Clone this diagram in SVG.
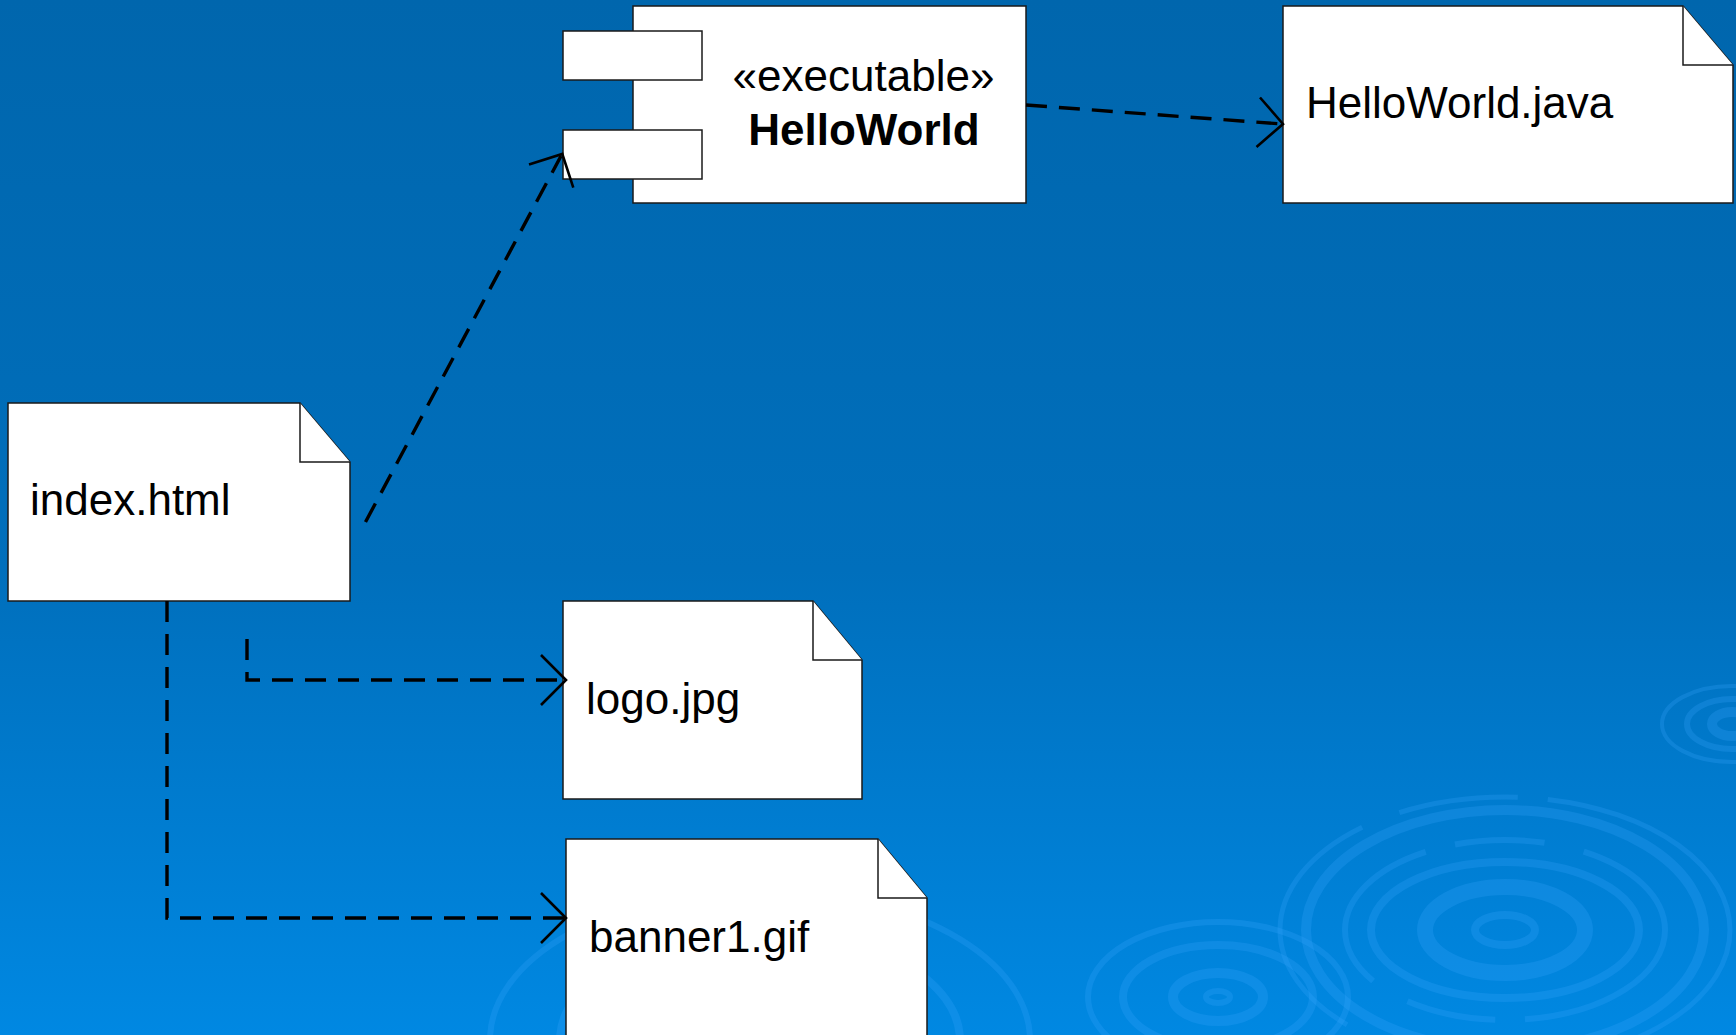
<svg xmlns="http://www.w3.org/2000/svg" width="1736" height="1035" viewBox="0 0 1736 1035">
<defs>
<linearGradient id="bg" x1="0" y1="0" x2="0" y2="1">
<stop offset="0" stop-color="#0066ad"/>
<stop offset="0.55" stop-color="#006fbc"/>
<stop offset="1" stop-color="#0088e2"/>
</linearGradient>
<style>
.box{fill:#fff;stroke:#1a1a1a;stroke-width:1.5}
.t{font-family:"Liberation Sans",Arial,sans-serif;font-size:44px;fill:#000}
.b{font-weight:bold}
.dash{fill:none;stroke:#000;stroke-width:3.4;stroke-dasharray:21 12}
.head{fill:none;stroke:#000;stroke-width:2.6;stroke-linejoin:miter}
.rip{fill:none;stroke:#3aa6ff;stroke-opacity:0.24}
</style>
</defs>
<rect width="1736" height="1035" fill="url(#bg)"/>
<g id="ripples">
<ellipse class="rip" cx="1505" cy="930" rx="80" ry="43" stroke-width="16"/>
<ellipse class="rip" cx="1505" cy="930" rx="30" ry="15" stroke-width="8"/>
<ellipse class="rip" cx="1505" cy="930" rx="134" ry="68" stroke-width="8"/>
<ellipse class="rip" cx="1505" cy="930" rx="160" ry="90" stroke-width="6" stroke-dasharray="180 30 90 40"/>
<ellipse class="rip" cx="1505" cy="930" rx="199" ry="120" stroke-width="10"/>
<ellipse class="rip" cx="1505" cy="930" rx="225" ry="133" stroke-width="5" stroke-dasharray="260 40 120 30"/>
<ellipse class="rip" cx="1732" cy="724" rx="20" ry="12" stroke-width="10"/>
<ellipse class="rip" cx="1732" cy="724" rx="45" ry="25" stroke-width="6"/>
<ellipse class="rip" cx="1732" cy="724" rx="70" ry="38" stroke-width="4"/>
<ellipse class="rip" cx="1218" cy="997" rx="12" ry="6" stroke-width="6"/>
<ellipse class="rip" cx="1218" cy="997" rx="45" ry="24" stroke-width="10"/>
<ellipse class="rip" cx="1218" cy="997" rx="95" ry="52" stroke-width="8"/>
<ellipse class="rip" cx="1218" cy="997" rx="130" ry="75" stroke-width="6"/>
<ellipse class="rip" cx="760" cy="1040" rx="200" ry="110" stroke-width="8"/>
<ellipse class="rip" cx="760" cy="1040" rx="270" ry="150" stroke-width="6"/>
</g>
<g id="component-HelloWorld">
<rect class="box" x="633" y="6" width="393" height="197"/>
<rect class="box" x="563" y="31" width="139" height="49"/>
<rect class="box" x="563" y="130" width="139" height="49"/>
<text class="t" x="863.5" y="91" text-anchor="middle">«executable»</text>
<text class="t b" x="864" y="145" text-anchor="middle">HelloWorld</text>
</g>
<g id="file-HelloWorld-java">
<path class="box" d="M1283,6 H1683 L1733,65 V203 H1283 Z"/>
<path class="box" d="M1683,6 V65 H1733"/>
<text class="t" x="1306" y="117.5">HelloWorld.java</text>
</g>
<g id="file-index-html">
<path class="box" d="M8,403 H300 L350,462 V601 H8 Z"/>
<path class="box" d="M300,403 V462 H350"/>
<text class="t" x="30" y="515">index.html</text>
</g>
<g id="file-logo-jpg">
<path class="box" d="M563,601 H813 L862,660 V799 H563 Z"/>
<path class="box" d="M813,601 V660 H862"/>
<text class="t" x="586" y="713.5">logo.jpg</text>
</g>
<g id="file-banner1-gif">
<path class="box" d="M566,839 H878 L927,898 V1045 H566 Z"/>
<path class="box" d="M878,839 V898 H927"/>
<text class="t" x="589" y="951.5">banner1.gif</text>
</g>
<g id="connectors">
<path class="dash" d="M1026,105 L1282,124"/>
<path class="head" d="M1260,97.5 L1283,124 L1256.5,147"/>
<path class="dash" d="M365.5,522 L561,156"/>
<path class="head" d="M529,164.5 L562.3,154 L573.3,187.7"/>
<path class="dash" d="M247,639 V680 H565"/>
<path class="head" d="M541,655 L566,680 L541,705"/>
<path class="dash" d="M167,601 V918 H565"/>
<path class="head" d="M541,893 L566,918 L541,943"/>
</g>
</svg>
